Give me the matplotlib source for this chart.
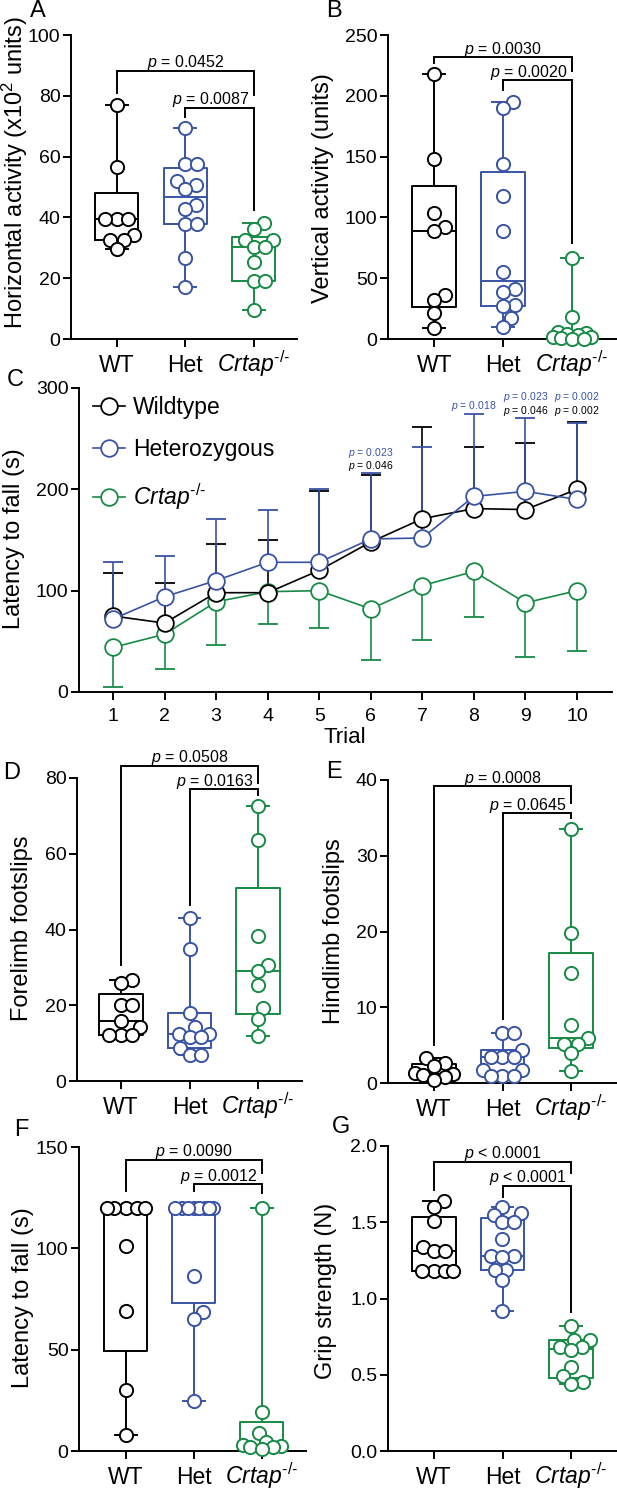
import numpy as np
import matplotlib
matplotlib.use("Agg")
import matplotlib.pyplot as plt

plt.rcParams['font.family'] = ['Liberation Sans', 'DejaVu Sans']
plt.rcParams['mathtext.fontset'] = 'custom'
plt.rcParams['mathtext.rm'] = 'Liberation Sans'
plt.rcParams['mathtext.it'] = 'Liberation Sans:italic'
plt.rcParams['mathtext.bf'] = 'Liberation Sans:bold'
plt.rcParams['mathtext.sf'] = 'Liberation Sans'

# ---------------- data ----------------
groups = ['WT', 'Het', 'Crtap']
KO_LABEL = r'$\mathit{Crtap}^{\mathit{‐/‐}}$'
cat_labels = ['WT', 'Het', KO_LABEL]

# A: horizontal activity (x10^2 units)
horiz_wt = [77.0, 56.5, 39.5, 39.5, 39.5, 34.2, 32.6, 32.6, 29.6]
horiz_het = [69.4, 57.6, 57.6, 52.1, 50.6, 49.3, 44.0, 42.6, 37.8, 37.8, 26.5, 17.2]
horiz_ko = [38.0, 36.2, 32.7, 32.7, 30.1, 30.1, 25.2, 19.2, 19.2, 9.7]
horiz_p = ['0.0452', '0.0087']

# B: vertical activity (units)
vert_wt = [218, 148, 104, 92, 89, 36, 32, 21, 9]
vert_het = [195, 190, 144, 118, 89, 55, 41, 39, 28, 27, 17, 10]
vert_ko = [67, 18, 6, 5, 4, 3, 2, 2, 1, 0, 0]
vert_p = ['0.0030', '0.0020']

# C: rotarod latency to fall (s) per trial, mean and SD
trials = [1, 2, 3, 4, 5, 6, 7, 8, 9, 10]
rot_wt_mean = [75, 68, 98, 98, 120, 148, 171, 181, 180, 200]
rot_wt_sd = [42, 40, 48, 52, 78, 66, 91, 61, 66, 66]
rot_het_mean = [72, 94, 110, 128, 128, 151, 152, 193, 198, 190]
rot_het_sd = [56, 40, 61, 52, 72, 65, 90, 81, 72, 75]
rot_ko_mean = [44, 57, 89, 99, 100, 82, 105, 119, 88, 100]
rot_ko_sd = [39, 34, 43, 32, 37, 50, 54, 45, 53, 60]
rot_p_trial = [6, 6, 8, 9, 9, 10, 10]
rot_p_text = ['0.023', '0.046', '0.018', '0.023', '0.046', '0.002', '0.002']
rot_p_group = ['Het', 'WT', 'Het', 'Het', 'WT', 'Het', 'WT']
rot_p_y = [236, 223, 282, 291, 277, 291, 277]

# D: forelimb footslips
fore_wt = [26.7, 25.8, 20.1, 20.1, 15.8, 14.2, 12.1, 12.1, 12.1]
fore_het = [43.0, 34.8, 17.9, 14.2, 12.3, 12.3, 11.5, 11.5, 8.6, 6.9, 6.9]
fore_ko = [72.6, 63.6, 38.4, 30.6, 29.0, 25.3, 19.2, 16.4, 11.9]
fore_p = ['0.0508', '0.0163']

# E: hindlimb footslips
hind_wt = [3.3, 2.6, 2.2, 1.3, 1.2, 1.1, 0.8, 0.4]
hind_het = [6.6, 6.6, 4.3, 3.4, 3.4, 3.4, 1.7, 1.7, 0.9, 0.9, 0.9]
hind_ko = [33.5, 19.8, 14.5, 7.7, 6.0, 5.2, 5.2, 4.0, 1.6]
hind_p = ['0.0008', '0.0645']

# F: latency to fall (s)
rod_wt = [120, 120, 120, 120, 120, 101, 69, 30, 8]
rod_het = [120, 120, 120, 120, 120, 120, 120, 120, 86.5, 68.7, 65, 24.7]
rod_ko = [120, 19.4, 9, 4.6, 3, 2.5, 2, 2, 1]
rod_p = ['0.0090', '0.0012']

# G: grip strength (N)
grip_wt = [1.64, 1.60, 1.51, 1.34, 1.31, 1.31, 1.18, 1.18, 1.18, 1.18]
grip_het = [1.60, 1.56, 1.55, 1.50, 1.50, 1.39, 1.28, 1.28, 1.27, 1.19, 1.19, 1.12, 0.92]
grip_ko = [0.82, 0.73, 0.73, 0.68, 0.68, 0.66, 0.55, 0.49, 0.45, 0.44]
grip_p = ['< 0.0001', '< 0.0001']

# bracket levels (bar1, left1, right1, bar2, left2, right2)
horiz_br = [88.3, 81.0, 80.3, 76.1, 73.1, 42.4]
vert_br = [231.7, 226.7, 220.6, 213.0, 205.0, 79.0]
fore_br = [83.2, 30.6, 78.6, 77.1, 46.5, 75.5]
hind_br = [39.2, 5.0, 36.9, 35.6, 8.5, 35.0]
rod_br = [143.6, 128.3, 137.0, 131.7, 128.5, 127.5]
grip_br = [1.897, 1.711, 1.82, 1.738, 1.664, 0.913]

# ---------------- style ----------------
COLORS = {'WT': '#000000', 'Het': '#3953A4', 'Crtap': '#178A45'}
LW = 1.4
TICK_FS = 14
LABEL_FS = 17
CAT_FS = 16.5
P_FS = 11.5
TICK_LEN = 6

W, H = 617, 1488
fig = plt.figure(figsize=(W / 100, H / 100), dpi=100)


def px_ax(l, t, r, b):
    return fig.add_axes([l / W, 1 - b / H, (r - l) / W, (b - t) / H])


def ftext(x, y, s, **kw):
    return fig.text(x / W, 1 - y / H, s, **kw)


def style(ax):
    for s in ['top', 'right']:
        ax.spines[s].set_visible(False)
    for s in ['left', 'bottom']:
        ax.spines[s].set_linewidth(LW)
    ax.tick_params(width=LW, length=TICK_LEN, labelsize=TICK_FS, direction='out')
    ax.tick_params(axis='y', pad=1.5)
    ax.set_facecolor('none')


def swarm_x(ax, xc, vals, diam_px, factor=0.86, wmax=19.0):
    vals = np.asarray(vals, float)
    pts = ax.transData.transform(np.column_stack([np.full(len(vals), xc), vals]))
    x0 = pts[0, 0]
    ys = pts[:, 1]
    D = diam_px * factor
    steps = np.arange(0.5, wmax + 0.01, 0.5)
    cands = np.concatenate([[0.0], np.column_stack([steps, -steps]).ravel()])
    px, py = [], []
    out = np.zeros(len(vals))
    for i in np.argsort(ys, kind='stable'):
        best_c, best_d = 0.0, -1.0
        for c in cands:
            if px:
                d = np.min(np.hypot(np.array(px) - c, np.array(py) - ys[i]))
            else:
                d = np.inf
            if d >= D:
                best_c = c
                break
            if d > best_d + 1e-9:
                best_d, best_c = d, c
        out[i] = best_c
        px.append(best_c)
        py.append(ys[i])
    return ax.transData.inverted().transform(np.column_stack([x0 + out, ys]))[:, 0]


def box_panel(ax, datasets, ylim, yticks, yticklabels, xlim, br, ptexts, xpad):
    style(ax)
    ax.set_xlim(*xlim)
    ax.set_ylim(*ylim)
    ms = 9.5
    diam = ms * 100 / 72
    for i, (g, d) in enumerate(zip(groups, datasets)):
        c = COLORS[g]
        q1, med, q3 = np.percentile(d, [25, 50, 75], method='weibull')
        st = dict(med=med, q1=q1, q3=q3, whislo=min(d), whishi=max(d), fliers=[])
        ax.bxp([st], positions=[i], widths=0.63, capwidths=0.32, showfliers=False,
               boxprops=dict(color=c, lw=LW), whiskerprops=dict(color=c, lw=LW),
               capprops=dict(color=c, lw=LW), medianprops=dict(color=c, lw=LW),
               manage_ticks=False, zorder=2)
    for i, (g, d) in enumerate(zip(groups, datasets)):
        c = COLORS[g]
        xs = swarm_x(ax, i, d, diam)
        ax.plot(xs, d, ls='none', marker='o', ms=ms, mfc='white', mec=c, mew=LW,
                zorder=3, clip_on=False)
    ax.set_xticks([0, 1, 2])
    ax.set_xticklabels(cat_labels, fontsize=CAT_FS, va='baseline')
    ax.tick_params(axis='x', pad=xpad)
    ax.set_yticks(yticks)
    ax.set_yticklabels(yticklabels)
    b1, l1, r1, b2, l2, r2 = br
    ax.plot([0, 0, 2, 2], [l1, b1, b1, r1], color='k', lw=LW, clip_on=False, zorder=4,
            solid_joinstyle='miter')
    ax.plot([1, 1, 2, 2], [l2, b2, b2, r2], color='k', lw=LW, clip_on=False, zorder=4,
            solid_joinstyle='miter')
    ax.annotate(r'$\mathit{p}$ ' + ('' if ptexts[0].startswith('<') else '= ') + ptexts[0],
                xy=(1, b1), xytext=(0, 2.5), textcoords='offset points',
                ha='center', va='baseline', fontsize=P_FS, annotation_clip=False)
    ax.annotate(r'$\mathit{p}$ ' + ('' if ptexts[1].startswith('<') else '= ') + ptexts[1],
                xy=(2, b2), xytext=(-3, 2.5), textcoords='offset points',
                ha='right', va='baseline', fontsize=P_FS, annotation_clip=False)


# ---------------- panels ----------------
axA = px_ax(71, 35, 297, 339)
box_panel(axA, [horiz_wt, horiz_het, horiz_ko], (0, 100), [0, 20, 40, 60, 80, 100],
          ['0', '20', '40', '60', '80', '100'], (-0.67, 2.63), horiz_br, horiz_p, 17.5)

axB = px_ax(388, 35, 617, 339)
box_panel(axB, [vert_wt, vert_het, vert_ko], (0, 250), [0, 50, 100, 150, 200, 250],
          ['0', '50', '100', '150', '200', '250'], (-0.67, 2.65), vert_br, vert_p, 17.5)

axD = px_ax(77, 778, 302, 1081)
box_panel(axD, [fore_wt, fore_het, fore_ko], (0, 80), [0, 20, 40, 60, 80],
          ['0', '20', '40', '60', '80'], (-0.64, 2.64), fore_br, fore_p, 17.5)

axE = px_ax(388, 780, 617, 1083)
box_panel(axE, [hind_wt, hind_het, hind_ko], (0, 40), [0, 10, 20, 30, 40],
          ['0', '10', '20', '30', '40'], (-0.67, 2.67), hind_br, hind_p, 17.5)

axF = px_ax(79, 1147, 306, 1451)
box_panel(axF, [rod_wt, rod_het, rod_ko], (0, 150), [0, 50, 100, 150],
          ['0', '50', '100', '150'], (-0.69, 2.65), rod_br, rod_p, 17.5)

axG = px_ax(388, 1146, 617, 1451)
box_panel(axG, [grip_wt, grip_het, grip_ko], (0, 2.0), [0, 0.5, 1.0, 1.5, 2.0],
          ['0.0', '0.5', '1.0', '1.5', '2.0'], (-0.67, 2.67), grip_br, grip_p, 17.5)

# Panel C
axC = px_ax(79, 388, 612, 692)
style(axC)
axC.set_xlim(0.34, 10.68)
axC.set_ylim(0, 300)
t = np.array(trials)
series = [
    ('Crtap', np.array(rot_ko_mean), np.array(rot_ko_sd), -1, KO_LABEL),
    ('WT', np.array(rot_wt_mean), np.array(rot_wt_sd), 1, 'Wildtype'),
    ('Het', np.array(rot_het_mean), np.array(rot_het_sd), 1, 'Heterozygous'),
]
handles = {}
for g, m, sd, sgn, lab in series:
    c = COLORS[g]
    end = m + sgn * sd
    axC.vlines(t, m, end, color=c, lw=1.2, zorder=2)
    axC.plot(t, end, ls='none', marker='_', ms=14.5, mew=1.3, color=c, zorder=2)
for g, m, sd, sgn, lab in series:
    c = COLORS[g]
    h, = axC.plot(t, m, color=c, lw=1.2, marker='o', ms=12, mfc='white', mec=c,
                  mew=1.3, zorder=3, label=lab)
    handles[g] = h
axC.legend(handles=[handles['WT'], handles['Het'], handles['Crtap']],
           loc='upper left', bbox_to_anchor=(0.026, 0.975), frameon=False,
           fontsize=16.5, handlelength=1.4, handletextpad=0.35, labelspacing=0.86,
           borderaxespad=0, borderpad=0)
for tr, txt, g, yv in zip(rot_p_trial, rot_p_text, rot_p_group, rot_p_y):
    axC.text(tr, yv, r'$\mathit{p}$ = ' + txt, color=COLORS[g], fontsize=7.5,
             ha='center', va='center')
axC.set_xticks(trials)
axC.set_xticklabels([str(v) for v in trials], va='baseline')
axC.tick_params(axis='x', pad=15)
axC.set_yticks([0, 100, 200, 300])
ftext(345, 737, 'Trial', fontsize=16, ha='center', va='center')

# y labels
ylabels = [
    (15, 173, 'Horizontal activity (x10$^{2}$ units)'),
    (323, 188, 'Vertical activity (units)'),
    (14, 539, 'Latency to fall (s)'),
    (22, 928, 'Forelimb footslips'),
    (334, 931, 'Hindlimb footslips'),
    (23, 1298, 'Latency to fall (s)'),
    (326, 1291, 'Grip strength (N)'),
]
for x, y, s in ylabels:
    ftext(x, y, s, fontsize=LABEL_FS, rotation=90, ha='center', va='center')

letters = [(38, 11, 'A'), (334, 11, 'B'), (15, 380, 'C'), (12, 773, 'D'),
           (334, 772, 'E'), (21, 1130, 'F'), (341, 1127, 'G')]
for x, y, s in letters:
    ftext(x, y, s, fontsize=17, ha='center', va='center')

fig.savefig('out.png', dpi=100)
